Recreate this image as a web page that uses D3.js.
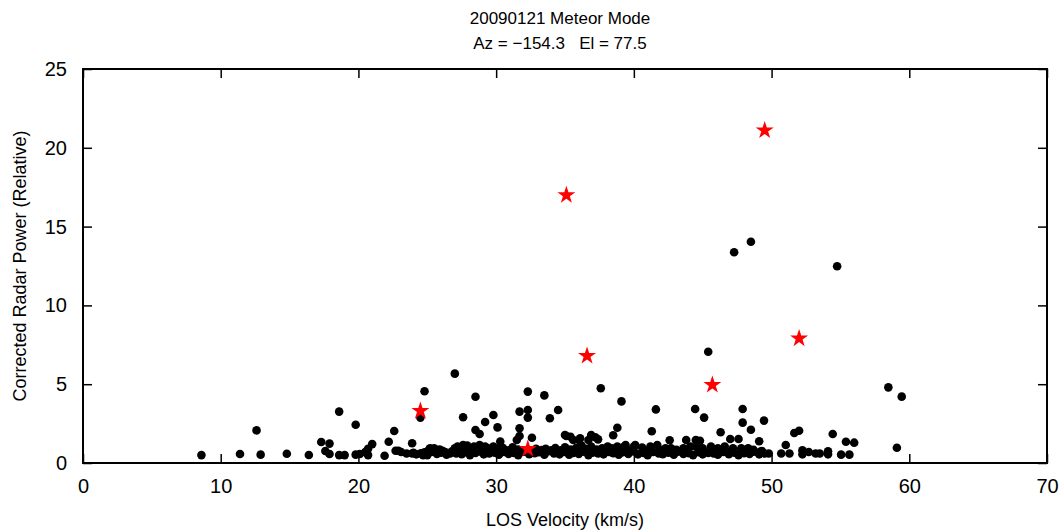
<!DOCTYPE html>
<html><head><meta charset="utf-8">
<script src="https://cdn.jsdelivr.net/npm/d3@7"></script>
<style>body{margin:0;background:#fff}text{font-family:"Liberation Sans",Arial,Helvetica,sans-serif}</style>
</head><body><svg id="c" width="1059" height="531"></svg>
<script>
const titleLines = ["20090121 Meteor Mode", "Az = \u2212154.3   El = 77.5"];
const xLabel = "LOS Velocity (km/s)";
const yLabel = "Corrected Radar Power (Relative)";
const xTicks = [0,10,20,30,40,50,60,70];
const yTicks = [0,5,10,15,20,25];

// Meteor detections (black dots)
const velocity = [
 8.6,11.4,12.9,12.6,14.8,16.4,17.3,17.9,17.6,17.9,18.6,18.6,19.0,19.8,19.8,20.1,20.5,20.7,20.7,21.0,
 22.6,22.2,21.9,22.7,22.9,23.9,23.5,23.9,23.1,24.0,24.5,24.8,24.7,27.0,27.6,28.5,28.5,28.8,29.2,29.8,
 30.1,31.7,32.3,32.3,32.3,31.7,31.7,32.6,31.5,30.3,33.5,33.9,34.5,35.1,35.0,35.4,35.6,36.0,36.1,36.7,
 36.9,37.2,37.4,37.6,39.1,38.8,38.5,41.3,41.6,40.1,42.6,43.8,44.5,44.8,44.7,44.45,45.1,45.4,46.3,47.0,
 47.6,47.9,47.9,48.5,49.1,49.45,47.28,48.5,54.76,51.65,52.0,51.03,50.7,51.3,49.8,52.24,52.24,52.7,53.2,53.5,
 54.1,54.1,54.44,55.4,56.0,55.05,55.65,58.48,59.45,59.1,
 24.5,24.8,25.2,25.5,25.9,26.3,26.65,27.0,27.2,27.6,27.9,28.2,28.4,28.8,29.2,29.4,29.8,30.2,
 30.5,30.9,31.2,31.6,32.0,32.9,33.2,33.6,34.0,34.3,34.7,35.0,35.4,35.8,36.2,36.5,36.9,37.3,
 37.7,38.1,38.4,38.8,39.3,39.4,40.0,40.6,41.2,41.7,42.3,42.7,43.1,43.6,44.1,44.5,
 45.6,46.6,47.2,47.8,48.3,48.7,45.0,46.1,49.2,
 24.2,24.6,25.0,25.3,25.7,26.0,26.4,26.8,27.1,27.5,27.8,28.1,28.5,28.9,29.1,29.5,29.9,30.2,30.6,30.9,
 31.3,31.6,32.0,32.4,32.8,33.1,33.5,33.8,34.2,34.6,34.9,35.3,35.6,36.0,36.3,36.7,37.0,37.4,37.8,38.2,
 38.5,38.9,39.2,39.6,40.0,40.3,40.7,41.0,41.4,41.8,42.1,42.5,42.9,43.2,43.6,44.0,44.3,44.7,45.0,45.4,
 45.8,46.1,46.5,46.9,47.3,47.6,48.0,48.4,48.7,49.1,49.5,
 25.1,26.1,27.3,28.3,29.6,30.4,31.4,32.6,33.3,34.4,35.1,36.4,37.6,38.7,39.8,40.9,41.9,42.8,43.9,44.9,
 46.0,47.1,48.2,49.3
];
const power = [
 0.50,0.57,0.53,2.07,0.59,0.51,1.33,1.23,0.76,0.57,3.26,0.50,0.50,2.43,0.53,0.57,0.70,0.90,0.50,1.20,
 2.03,1.35,0.46,0.78,0.78,1.25,0.60,0.60,0.70,0.65,2.88,4.55,0.50,5.67,2.90,4.20,2.09,1.84,2.60,3.05,
 2.26,3.26,4.53,3.36,2.88,2.20,1.71,1.60,1.46,1.36,4.29,2.84,3.36,1.71,1.78,1.67,1.46,1.46,1.57,1.46,
 1.78,1.63,1.50,4.74,3.91,2.24,1.76,2.01,3.40,1.14,1.44,1.46,1.46,1.41,1.25,3.43,2.88,7.06,1.95,1.52,
 1.52,3.43,2.56,2.11,1.38,2.69,13.37,14.04,12.48,1.90,2.05,1.14,0.60,0.60,0.60,0.80,0.55,0.70,0.60,0.60,
 0.75,0.55,1.84,1.35,1.29,0.53,0.53,4.80,4.21,0.97,
 0.60,0.68,0.93,0.93,0.86,0.70,0.60,0.93,1.04,1.14,1.10,0.93,1.04,1.14,1.04,0.93,1.04,0.93,
 0.95,0.80,1.00,0.85,0.75,0.90,0.75,0.90,0.80,0.95,0.80,1.00,0.85,0.95,1.10,0.90,1.05,0.85,
 0.93,1.04,0.93,1.04,1.04,1.14,1.04,0.98,1.04,1.14,0.93,0.93,0.83,0.93,1.04,1.04,
 1.04,1.04,0.93,0.93,0.93,0.83,0.93,0.93,0.72,
 0.55,0.62,0.50,0.70,0.58,0.66,0.52,0.74,0.60,0.56,0.68,0.50,0.63,0.72,0.55,0.60,0.66,0.52,0.70,0.58,
 0.64,0.50,0.72,0.56,0.62,0.68,0.53,0.75,0.60,0.55,0.70,0.52,0.64,0.58,0.72,0.50,0.66,0.60,0.55,0.70,
 0.62,0.52,0.68,0.58,0.74,0.55,0.63,0.50,0.70,0.60,0.56,0.66,0.52,0.72,0.58,0.62,0.50,0.68,0.55,0.64,
 0.60,0.52,0.70,0.56,0.66,0.50,0.62,0.58,0.72,0.55,0.60,
 0.82,0.78,0.80,0.76,0.82,0.78,0.80,0.76,0.82,0.78,0.80,0.76,0.82,0.78,0.80,0.76,0.82,0.78,0.80,0.76,
 0.82,0.78,0.80,0.76
];
// Highlighted events (red stars)
const starVelocity = [24.5, 32.3, 35.1, 36.6, 45.7, 49.5, 52.0];
const starPower    = [3.3, 0.9, 17.0, 6.8, 4.95, 21.1, 7.9];

const svg = d3.select("#c");
const L = 83, R = 1047, T = 69, B = 463;
const x = d3.scaleLinear().domain([0,70]).range([L,R]);
const y = d3.scaleLinear().domain([0,25]).range([B,T]);
const tk = 9;

const g = svg.append("g");
// axes
g.append("g").attr("transform",`translate(0,${B})`)
 .call(d3.axisBottom(x).tickValues(xTicks).tickSize(-tk).tickPadding(tk+7).tickSizeOuter(0))
 .call(a=>{a.select(".domain").remove();a.selectAll("text").attr("font-size",20).attr("fill","#000");});
g.append("g").attr("transform",`translate(0,${T})`)
 .call(d3.axisTop(x).tickValues(xTicks).tickSize(-tk).tickFormat("").tickSizeOuter(0))
 .call(a=>a.select(".domain").remove());
g.append("g").attr("transform",`translate(${L},0)`)
 .call(d3.axisLeft(y).tickValues(yTicks).tickSize(-tk).tickPadding(tk+7).tickSizeOuter(0))
 .call(a=>{a.select(".domain").remove();a.selectAll("text").attr("font-size",20).attr("fill","#000");});
g.append("g").attr("transform",`translate(${R},0)`)
 .call(d3.axisRight(y).tickValues(yTicks).tickSize(-tk).tickFormat("").tickSizeOuter(0))
 .call(a=>a.select(".domain").remove());
g.selectAll(".tick line").attr("stroke","#000").attr("stroke-width",1.5);
svg.append("rect").attr("x",L).attr("y",T).attr("width",R-L).attr("height",B-T)
 .attr("fill","none").attr("stroke","#000").attr("stroke-width",2);

// points
const pts = velocity.map((v,i)=>({v,p:power[i]}));
svg.append("g").selectAll("circle").data(pts).join("circle")
 .attr("cx",d=>x(d.v)).attr("cy",d=>y(d.p)).attr("r",4.3).attr("fill","#000");
const stars = starVelocity.map((v,i)=>({v,p:starPower[i]}));
svg.append("g").selectAll("path").data(stars).join("path")
 .attr("d",d3.symbol().type(d3.symbolStar).size(100))
 .attr("transform",d=>`translate(${x(d.v)},${y(d.p)})`).attr("fill","#ff0000");

// titles
svg.append("text").attr("x",560).attr("y",24).attr("text-anchor","middle").attr("font-size",17).text(titleLines[0]);
svg.append("text").attr("x",560).attr("y",49).attr("text-anchor","middle").attr("font-size",17)
 .attr("xml:space","preserve").style("white-space","pre").text(titleLines[1]);
svg.append("text").attr("x",565).attr("y",526).attr("text-anchor","middle").attr("font-size",18).text(xLabel);
svg.append("text").attr("transform","translate(26,266) rotate(-90)").attr("text-anchor","middle").attr("font-size",18).text(yLabel);
</script></body></html>
